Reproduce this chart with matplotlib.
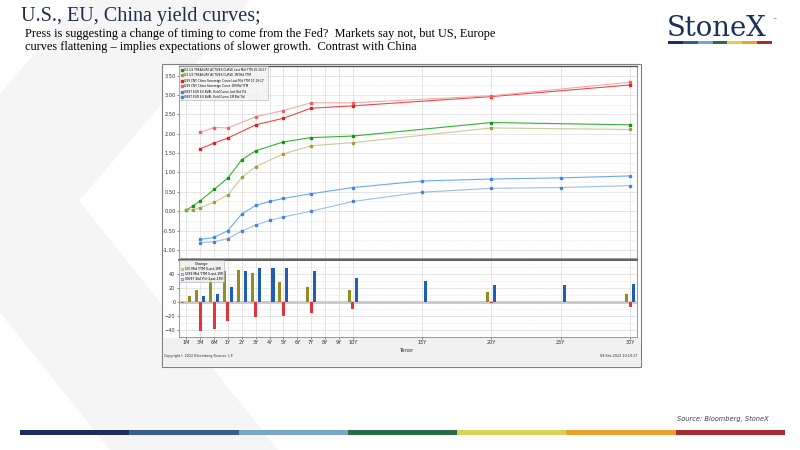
import numpy as np
import matplotlib
matplotlib.use("Agg")
import matplotlib.pyplot as plt
from matplotlib.patches import Rectangle, Polygon
from matplotlib.lines import Line2D

# --- data ---
tick_labels = ['1M', '3M', '6M', '1Y', '2Y', '3Y', '4Y', '5Y', '6Y', '7Y', '8Y', '9Y', '10Y',
               '15Y', '20Y', '25Y', '30Y']

us_tenors = ['1M', '2M', '3M', '6M', '1Y', '2Y', '3Y', '5Y', '7Y', '10Y', '20Y', '30Y']
us_last = [0.03, 0.14, 0.27, 0.56, 0.86, 1.33, 1.56, 1.79, 1.90, 1.94, 2.29, 2.23]
us_1m = [0.03, 0.04, 0.09, 0.23, 0.42, 0.87, 1.15, 1.48, 1.69, 1.77, 2.15, 2.11]
us_chg = [-1, 8, 17, 34, 44, 46, 41, 29, 22, 17, 15, 12]

cn_tenors = ['3M', '6M', '1Y', '3Y', '5Y', '7Y', '10Y', '20Y', '30Y']
cn_last = [1.61, 1.76, 1.89, 2.23, 2.40, 2.66, 2.72, 2.96, 3.26]
cn_1m = [2.04, 2.16, 2.15, 2.44, 2.60, 2.80, 2.80, 2.98, 3.33]
cn_chg = [-42, -39, -27, -21, -20, -15, -10, -2, -7]

eu_tenors = ['3M', '6M', '1Y', '2Y', '3Y', '4Y', '5Y', '7Y', '10Y', '15Y', '20Y', '25Y', '30Y']
eu_last = [-0.73, -0.68, -0.50, -0.07, 0.15, 0.25, 0.33, 0.45, 0.61, 0.78, 0.83, 0.86, 0.91]
eu_1m = [-0.81, -0.79, -0.71, -0.51, -0.36, -0.24, -0.15, 0.00, 0.25, 0.49, 0.59, 0.61, 0.66]
eu_chg = [8, 11, 21, 44, 49, 49, 48, 44, 35, 30, 24, 24, 26]

legend_top = ['I25 US TREASURY ACTIVES CURVE Last Mid YTM 10:19:17',
              'I25 US TREASURY ACTIVES CURVE 1M Mid YTM',
              'I299 CNY China Sovereign Curve Last Mid YTM 10:19:17',
              'I299 CNY China Sovereign Curve 1M Mid YTM',
              'I0697 EUR EU BVAL Yield Curve Last Bid Yld',
              'I0697 EUR EU BVAL Yield Curve 1M Bid Yld']
legend_bot = ['I25 Mid YTM (Last-1M)', 'I299 Mid YTM (Last-1M)', 'I0697 Bid Yld (Last-1M)']

stripe_colors = ['#1f2d5c', '#365f8e', '#7aa7c8', '#2a6a4a', '#dcd058', '#e9a32d', '#a82a33']


def years(t):
    return int(t[:-1]) / 12 if t.endswith('M') else float(t[:-1])


# Bloomberg tenor axis: evenly spaced up to 10Y, then linear in years
tick_years = [years(t) for t in tick_labels]
tick_pos = list(range(13)) + [17, 22, 27, 32]


def xpos(tenors):
    return np.interp([years(t) for t in tenors], tick_years, tick_pos)


fig = plt.figure(figsize=(8, 4.5), dpi=100)
W, H = 800, 450

# slide background layer (pixel coordinates)
bg = fig.add_axes([0, 0, 1, 1])
bg.set_xlim(0, W)
bg.set_ylim(H, 0)
bg.axis('off')

bg.add_patch(Polygon([(80, 0), (250, 0), (79, 201), (278, 450), (110, 450), (-90, 200)],
                     closed=True, color='#f5f5f5', lw=0, zorder=0))

bg.text(21, 21.5, 'U.S., EU, China yield curves;', fontsize=14.5, family='Liberation Serif',
        color='#1f2d4d', va='baseline')
bg.text(25, 36.5, 'Press is suggesting a change of timing to come from the Fed?  Markets say not, but US, Europe',
        fontsize=8.8, family='Liberation Serif', va='baseline')
bg.text(25, 50, 'curves flattening \u2013 implies expectations of slower growth.  Contrast with China',
        fontsize=8.8, family='Liberation Serif', va='baseline')

# logo
bg.text(667, 36, 'StoneX', fontsize=19.8, family='DejaVu Serif', color='#1b3157', va='baseline')
bg.text(772, 21, '\u2122', fontsize=3, color='#1b3157', va='baseline')
for i, c in enumerate(stripe_colors):
    bg.add_patch(Rectangle((668 + i * 104 / 7, 40.5), 104 / 7, 3.5, color=c, lw=0))

# footer
bg.text(769, 421, 'Source: Bloomberg, StoneX', fontsize=4.8, style='italic', color='#404040',
        ha='right', va='baseline')
for i, c in enumerate(stripe_colors):
    bg.add_patch(Rectangle((20 + i * 765 / 7, 429.5), 765 / 7, 5, color=c, lw=0))

# Bloomberg panel frame
bg.add_patch(Rectangle((162, 64), 479, 303, facecolor='white', edgecolor='#7f7f7f', lw=0.8, zorder=1))
bg.add_patch(Rectangle((162.5, 338), 478, 28.5, facecolor='#f0f0f0', lw=0, zorder=1))
bg.text(407, 350.5, 'Tenor', fontsize=3.8, ha='center', va='center', color='#303030', zorder=2)
bg.text(164, 356, 'Copyright\u00a9 2022 Bloomberg Finance L.P.', fontsize=2.4, va='center',
        color='#303030', zorder=2)
bg.text(637, 356, '09-Feb-2022 10:19:17', fontsize=2.4, va='center', ha='right',
        color='#303030', zorder=2)


def style_axes(ax):
    ax.set_xlim(-0.53, 32.5)
    ax.set_xticks(tick_pos)
    ax.tick_params(labelsize=3.6, length=1.5, width=0.4, pad=1, colors='#303030')
    ax.grid(axis='x', color='#dcdcdc', lw=0.5)
    ax.grid(axis='y', which='major', color='#dcdcdc', lw=0.5)
    ax.grid(axis='y', which='minor', color='#d8d8d8', lw=0.5, ls=':')
    ax.tick_params(which='minor', length=0)
    ax.set_axisbelow(True)
    for s in ax.spines.values():
        s.set_color('#8a8a8a')
        s.set_linewidth(0.6)
    ax.spines['top'].set_color('#555555')
    ax.spines['top'].set_linewidth(1.0)


# --- yield curves ---
ax = fig.add_axes([179 / W, 1 - 258 / H, 458 / W, 192 / H])
style_axes(ax)
ax.set_ylim(-1.21, 3.75)
ax.set_yticks(np.arange(-1.0, 3.51, 0.5))
ax.set_yticks(np.arange(-1.0, 3.6, 0.25), minor=True)
ax.set_yticklabels([f'{v:.2f}' for v in np.arange(-1.0, 3.51, 0.5)])
ax.set_xticklabels([])
ax.tick_params(axis='x', length=0)

series = [
    (us_tenors, us_last, '#32b432', '#0f9a0f'),
    (us_tenors, us_1m, '#cfc89a', '#a89a3c'),
    (cn_tenors, cn_last, '#ee4646', '#e01e1e'),
    (cn_tenors, cn_1m, '#f5aaaa', '#ee6262'),
    (eu_tenors, eu_last, '#6ea8f5', '#3f86ea'),
    (eu_tenors, eu_1m, '#a0bde6', '#4f82c8'),
]
handles = []
for (ten, vals, lc, mc), lab in zip(series, legend_top):
    ax.plot(xpos(ten), vals, color=lc, lw=0.8, marker='s', ms=1.6, mfc=mc, mec=mc, zorder=3)
    handles.append(Line2D([], [], ls='none', marker='s', ms=1.8, mfc=mc, mec=mc, label=lab))

leg = ax.legend(handles=handles, loc='upper left', fontsize=2.1, frameon=True, fancybox=False,
                borderpad=0.45, labelspacing=0.5, handlelength=0.6, handletextpad=0.6,
                borderaxespad=0.15)
leg.get_frame().set_facecolor('#f2f2f2')
leg.get_frame().set_edgecolor('#9a9a9a')
leg.get_frame().set_linewidth(0.4)

# --- change bars ---
bx = fig.add_axes([179 / W, 1 - 337 / H, 458 / W, 77 / H])
style_axes(bx)
bx.spines['top'].set_linewidth(1.2)
bx.spines['top'].set_color('#444444')
bx.set_ylim(-50, 60)
bx.set_yticks([-40, -20, 0, 20, 40])
bx.set_yticks(np.arange(-50, 61, 10), minor=True)
bx.set_xticklabels(tick_labels)
bx.axhline(0, color='#c8c8c8', lw=2.0, zorder=1)

bw = 0.22
bar_sets = [(us_tenors, us_chg, '#948c1c', -0.26),
            (cn_tenors, cn_chg, '#e4343a', 0.0),
            (eu_tenors, eu_chg, '#1e5fb4', 0.25)]
bhandles = []
for (ten, vals, c, off), lab in zip(bar_sets, legend_bot):
    bx.bar(xpos(ten) + off, vals, width=bw, color=c, lw=0, zorder=2)
    bhandles.append(Line2D([], [], ls='none', marker='s', ms=2, mfc='none', mec=c, mew=0.4, label=lab))

bleg = bx.legend(handles=bhandles, loc='upper left', title='Change', fontsize=2.3,
                 title_fontsize=2.5, frameon=True, fancybox=False, borderpad=0.4,
                 labelspacing=0.35, handlelength=0.6, handletextpad=0.6, borderaxespad=0.15)
bleg.get_frame().set_facecolor('#eeeeee')
bleg.get_frame().set_edgecolor('#9a9a9a')
bleg.get_frame().set_linewidth(0.4)
bleg.get_frame().set_alpha(0.85)

fig.savefig('out.png', dpi=100)
